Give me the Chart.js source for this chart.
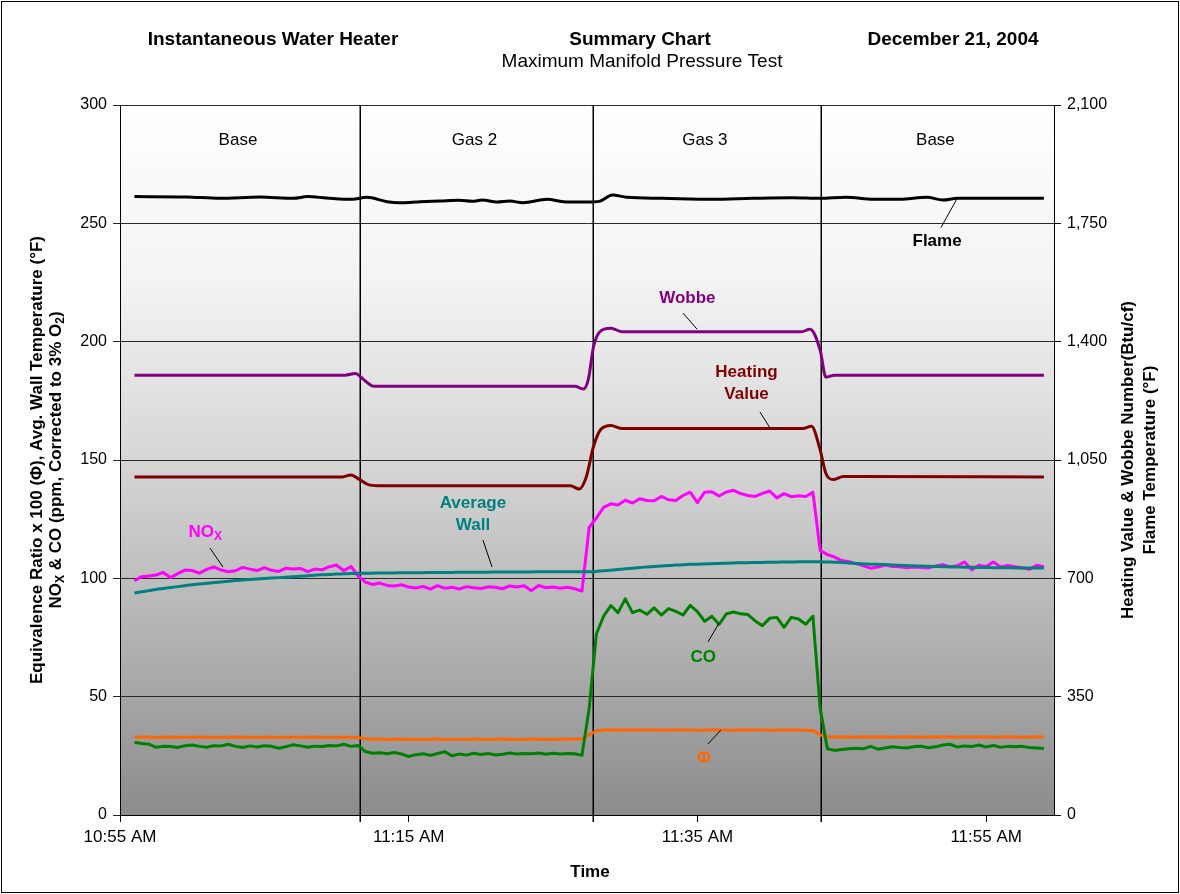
<!DOCTYPE html>
<html>
<head>
<meta charset="utf-8">
<script src="https://cdn.jsdelivr.net/npm/chart.js@4.4.1/dist/chart.umd.min.js"></script>
<style>
  html, body { margin: 0; padding: 0; background: #ffffff; }
  canvas { display: block; }
</style>
</head>
<body>
<canvas id="summary" width="1180" height="894"></canvas>
<script>
// ---- Logged data: minutes after 10:55 AM, one sample every half minute ----
const sampleStartMin = 1;
const sampleStepMin = 0.5;

// NOx, ppm corrected to 3% O2 (left axis)
const noxPpm = [
  99.0,100.7,101.0,101.4,102.5,100.3,102.0,103.5,103.3,102.2,103.8,104.8,103.5,102.8,103.2,104.6,
  103.9,103.3,104.5,103.4,102.9,104.3,103.9,104.2,102.8,103.9,103.6,104.9,105.6,103.2,105.0,101.0,
  98.4,97.4,98.0,97.0,96.8,97.3,96.3,95.9,96.6,95.4,96.9,95.8,96.2,95.5,96.5,96.0,
  95.7,96.4,96.2,95.6,96.8,96.3,96.9,94.8,97.0,96.0,96.3,95.8,96.2,95.6,94.6,
  121.5,125.5,
  130.0,131.5,131.0,133.0,131.8,133.6,132.9,132.8,134.6,133.2,132.9,135.0,136.4,132.0,136.4,
  136.6,134.8,136.5,137.2,135.8,135.0,134.6,135.9,136.9,134.0,135.8,134.5,134.9,134.6,136.4,
  111.8,
  110.0,109.0,107.5,107.0,106.2,105.3,104.3,104.8,105.6,105.0,104.9,104.5,104.8,104.6,104.4,105.2,
  105.8,104.8,105.3,106.9,103.6,105.5,105.0,106.9,104.8,105.4,104.9,104.5,103.8,105.5,104.9
];

// CO, ppm corrected to 3% O2 (left axis)
const coPpm = [
  30.7,30.2,29.9,28.6,29.0,28.9,28.5,29.3,29.6,29.0,28.6,29.3,29.2,29.9,29.0,28.5,
  29.2,28.7,29.3,29.0,28.2,28.9,29.7,29.2,28.6,29.1,28.9,29.4,29.2,29.9,29.0,29.4,
  26.8,26.1,26.3,25.9,26.4,25.8,24.7,25.5,25.9,25.2,26.0,26.7,25.0,25.8,25.3,26.1,
  25.6,26.0,25.4,25.7,26.2,25.8,26.0,25.9,26.2,25.7,26.1,25.8,26.0,25.9,25.2,
  45.0,76.5,
  84.0,88.5,85.5,91.3,85.5,86.6,84.8,87.5,84.5,87.2,86.0,84.5,88.6,85.9,81.8,
  84.0,80.5,85.0,85.8,85.0,84.7,82.0,80.0,83.1,83.5,79.3,83.5,82.8,80.6,84.0,
  45.0,
  28.0,27.3,27.7,28.0,28.2,28.0,29.0,27.8,28.3,28.8,28.5,28.3,28.9,29.1,28.4,28.8,
  29.6,29.9,28.7,29.2,28.9,29.6,28.7,29.4,28.6,29.0,28.8,29.0,28.5,28.3,28.1
];

// Equivalence ratio x 100 (left axis)
const phiX100 = [
  33.0,32.9,33.0,32.8,32.9,33.0,32.9,32.8,32.9,33.0,32.9,32.9,32.8,32.9,33.0,32.9,
  32.8,32.9,32.9,33.0,32.8,32.9,32.9,32.8,32.9,33.0,32.9,32.8,32.9,32.9,32.8,32.7,
  32.2,32.0,32.1,31.9,32.0,32.1,31.9,32.0,31.8,32.0,32.1,31.9,32.0,32.0,31.9,32.1,
  32.0,31.9,32.0,32.1,32.0,31.9,32.0,32.1,32.0,32.0,31.9,32.1,32.0,32.1,32.2,
  34.0,35.5,
  35.9,36.0,35.9,35.8,36.0,35.9,35.9,36.0,35.8,35.9,35.9,36.0,35.9,35.8,35.9,
  36.0,35.9,35.9,35.8,35.9,36.0,35.9,35.9,35.8,35.9,36.0,35.9,35.9,35.8,35.7,
  33.8,
  33.1,33.0,33.1,33.0,32.9,33.1,33.0,33.0,33.1,32.9,33.0,33.1,33.0,32.9,33.0,33.1,
  33.0,33.0,32.9,33.1,33.0,33.0,33.1,32.9,33.0,33.1,33.0,32.9,33.0,33.1,33.0
];

// Average wall temperature, deg F (left axis)
const wallTempF = [
  93.8,94.3,94.8,95.3,95.7,96.1,96.5,96.9,97.3,97.6,97.9,98.2,98.5,98.8,99.1,99.3,
  99.5,99.7,99.9,100.1,100.3,100.5,100.7,100.9,101.1,101.3,101.5,101.6,101.8,101.9,102.0,102.1,
  102.2,102.2,102.3,102.3,102.3,102.4,102.4,102.4,102.4,102.5,102.5,102.5,102.5,102.6,102.6,102.6,
  102.6,102.6,102.7,102.7,102.7,102.7,102.7,102.7,102.8,102.8,102.8,102.8,102.8,102.8,102.8,
  102.8,102.9,
  103.2,103.4,103.7,104.0,104.3,104.6,104.8,105.0,105.2,105.4,105.6,105.7,105.9,106.0,106.1,
  106.2,106.3,106.4,106.5,106.6,106.6,106.7,106.7,106.8,106.8,106.9,106.9,107.0,107.0,107.0,
  107.0,
  106.9,106.8,106.7,106.5,106.3,106.1,106.0,105.9,105.8,105.6,105.5,105.4,105.3,105.2,105.1,105.0,
  104.9,104.9,104.8,104.7,104.7,104.6,104.6,104.5,104.5,104.5,104.4,104.4,104.4,104.4,104.4
];

// Wobbe number, Btu/cf (right axis)
const wobbeMin = [1, 15.6, 16.3, 16.9, 17.6, 18.4, 31.5, 32.1, 32.45, 32.8, 33.3, 34.0, 34.8, 47.2, 47.8, 48.5, 48.9, 49.5, 64];
const wobbeBtu = [1301, 1301, 1306, 1287, 1268, 1268, 1268, 1260, 1290, 1385, 1432, 1440, 1429, 1429, 1437, 1375, 1295, 1301, 1301];

// Heating value, Btu/cf (right axis)
const heatingMin = [1, 15.4, 16.0, 16.6, 17.2, 17.9, 31.2, 31.8, 32.3, 32.8, 33.3, 34.0, 34.8, 47.3, 47.9, 48.5, 48.9, 49.4, 50.1, 64];
const heatingBtu = [1000, 1000, 1006, 992, 977, 974, 974, 964, 1000, 1090, 1140, 1152, 1143, 1143, 1150, 1080, 1010, 992, 1001, 1000];

// Flame temperature, deg F (right axis)
const flameMin = [1, 4.6, 6.9, 9.7, 12.0, 13.0, 14.3, 16.1, 17.1, 18.5, 19.4, 20.8, 22.2, 23.5, 24.4, 25.1, 26.1, 27.0, 27.9,
  29.6, 30.7, 32.3, 33.2, 34.1, 35.1, 37.6, 41.1, 43.8, 46.6, 48.5, 50.3, 52.2, 54.0, 55.9, 57.0, 58.0, 59.6, 64];
const flameF = [1829, 1828, 1824, 1828, 1824, 1829, 1825, 1821, 1827, 1814, 1811, 1814, 1816, 1818, 1815, 1819, 1813, 1816, 1811,
  1821, 1814, 1813, 1815, 1834, 1827, 1824, 1821, 1824, 1826, 1824, 1827, 1821, 1821, 1827, 1819, 1824, 1824, 1824];

// Test phases: boundaries in minutes after 10:55 AM, and their names
const phaseBoundsMin = [16.62, 32.76, 48.55];
const phaseNames = ['Base', 'Gas 2', 'Gas 3', 'Base'];

// Axes
const timeTicksMin = [0, 20, 40, 60];
const clockStartMin = 10 * 60 + 55;
const leftTicks = [0, 50, 100, 150, 200, 250, 300];
const rightTicks = [0, 350, 700, 1050, 1400, 1750, 2100];

// ---------------------------------------------------------------------------
const FONT = "'Liberation Sans', Arial, Helvetica, sans-serif";
const sampleMinutes = noxPpm.map((_, i) => sampleStartMin + i * sampleStepMin);
const onSamples = vals => vals.map((v, i) => ({ x: sampleMinutes[i], y: v }));
const paired = (xs, ys) => xs.map((x, i) => ({ x, y: ys[i] }));

function clockLabel(min) {
  const total = clockStartMin + min;
  let h = Math.floor(total / 60);
  const m = total % 60;
  const ampm = h >= 12 ? 'PM' : 'AM';
  if (h > 12) h -= 12;
  return h + ':' + String(m).padStart(2, '0') + ' ' + ampm;
}

// text made of runs (for subscripts), centred at x,y, optionally rotated
function drawRuns(ctx, runs, x, y, rot) {
  ctx.save();
  ctx.translate(x, y);
  if (rot) ctx.rotate(rot);
  let total = 0;
  runs.forEach(r => { ctx.font = r.font; r.w = ctx.measureText(r.text).width; total += r.w; });
  let cx = -total / 2;
  ctx.textAlign = 'left';
  ctx.textBaseline = 'middle';
  runs.forEach(r => {
    ctx.font = r.font;
    ctx.fillStyle = r.color || '#000';
    ctx.fillText(r.text, cx, r.dy || 0);
    cx += r.w;
  });
  ctx.restore();
}

// series call-outs: label position and leader line, in (minutes, left-axis units)
const callouts = [
  { color: '#000000', lines: [[{ t: 'Flame' }]], at: [56.6, 242.3], leader: [57.98, 260.4, 56.87, 248.2] },
  { color: '#800080', lines: [[{ t: 'Wobbe' }]], at: [39.3, 218.4], leader: [39.0, 212.1, 39.97, 205.3] },
  { color: '#800000', lines: [[{ t: 'Heating' }], [{ t: 'Value' }]], at: [43.4, 182.2], leader: [44.33, 170.3, 45.03, 163.5] },
  { color: '#ff00ff', lines: [[{ t: 'NO' }, { t: 'X', sub: true }]], at: [5.9, 119.6], leader: [6.23, 112.8, 7.13, 104.8] },
  { color: '#008080', lines: [[{ t: 'Average' }], [{ t: 'Wall' }]], at: [24.45, 127.1], leader: [25.14, 116.2, 25.77, 104.8] },
  { color: '#008000', lines: [[{ t: 'CO' }]], at: [40.4, 66.8], leader: [40.73, 73.1, 41.5, 81.1] },
  { color: '#ff6600', lines: [[{ t: '\u03A6' }]], at: [40.46, 24.1], leader: [40.73, 30.0, 41.63, 35.9] }
];

const decor = {
  id: 'decor',
  beforeDraw(chart) {
    const { ctx, chartArea: a } = chart;
    ctx.save();
    ctx.fillStyle = '#ffffff';
    ctx.fillRect(0, 0, chart.width, chart.height);
    const g = ctx.createLinearGradient(0, a.top, 0, a.bottom);
    g.addColorStop(0, '#ffffff');
    g.addColorStop(0.25, '#f3f3f3');
    g.addColorStop(0.5, '#d6d6d6');
    g.addColorStop(0.75, '#b2b2b2');
    g.addColorStop(1, '#8c8c8c');
    ctx.fillStyle = g;
    ctx.fillRect(a.left, a.top, a.right - a.left, a.bottom - a.top);
    ctx.restore();
  },
  beforeDatasetsDraw(chart) {
    const { ctx, chartArea: a, scales } = chart;
    ctx.save();
    ctx.strokeStyle = '#000000';
    ctx.lineWidth = 1.5;
    phaseBoundsMin.forEach(m => {
      const x = Math.round(scales.x.getPixelForValue(m)) + 0.25;
      ctx.beginPath();
      ctx.moveTo(x, a.top);
      ctx.lineTo(x, a.bottom + 7);
      ctx.stroke();
    });
    ctx.restore();
  },
  afterDatasetsDraw(chart) {
    const { ctx, scales } = chart;
    const xs = scales.x, ys = scales.y;
    ctx.save();
    // phase names, centred in each phase
    const edges = [xs.min, ...phaseBoundsMin, xs.max];
    ctx.font = '17px ' + FONT;
    ctx.fillStyle = '#000';
    ctx.textAlign = 'center';
    ctx.textBaseline = 'middle';
    phaseNames.forEach((name, i) => {
      const mid = (edges[i] + edges[i + 1]) / 2;
      ctx.fillText(name, xs.getPixelForValue(mid) - 2, ys.getPixelForValue(285.2));
    });
    // call-outs
    callouts.forEach(c => {
      const [t1, v1, t2, v2] = c.leader;
      ctx.strokeStyle = '#000';
      ctx.lineWidth = 1;
      ctx.beginPath();
      ctx.moveTo(xs.getPixelForValue(t1), ys.getPixelForValue(v1));
      ctx.lineTo(xs.getPixelForValue(t2), ys.getPixelForValue(v2));
      ctx.stroke();
      const cx = xs.getPixelForValue(c.at[0]);
      const cy = ys.getPixelForValue(c.at[1]);
      const n = c.lines.length;
      c.lines.forEach((line, k) => {
        const runs = line.map(r => r.sub
          ? { text: r.t, font: 'bold 12px ' + FONT, color: c.color, dy: 5 }
          : { text: r.t, font: 'bold 17px ' + FONT, color: c.color });
        drawRuns(ctx, runs, cx, cy + (k - (n - 1) / 2) * 22, 0);
      });
    });
    ctx.restore();
  },
  afterDraw(chart) {
    const { ctx, chartArea: a } = chart;
    ctx.save();
    ctx.fillStyle = '#000';
    ctx.textBaseline = 'middle';
    ctx.textAlign = 'center';
    ctx.font = 'bold 19px ' + FONT;
    ctx.fillText('Instantaneous Water Heater', 273, 40);
    ctx.fillText('Summary Chart', 640, 40);
    ctx.fillText('December 21, 2004', 953, 40);
    ctx.font = '19px ' + FONT;
    ctx.fillText('Maximum Manifold Pressure Test', 642, 62);
    ctx.font = 'bold 17px ' + FONT;
    ctx.fillText('Time', 590, 872);

    const midY = (a.top + a.bottom) / 2;
    const B = 'bold 17px ' + FONT, S = 'bold 12px ' + FONT;
    drawRuns(ctx, [{ text: 'Equivalence Ratio x 100 (\u03A6), Avg. Wall Temperature (\u00B0F)', font: B }], 37, midY, -Math.PI / 2);
    drawRuns(ctx, [
      { text: 'NO', font: B }, { text: 'X', font: S, dy: 5 },
      { text: ' & CO (ppm, Corrected to 3% O', font: B }, { text: '2', font: S, dy: 5 }, { text: ')', font: B }
    ], 56, midY, -Math.PI / 2);
    drawRuns(ctx, [{ text: 'Heating Value & Wobbe Number(Btu/cf)', font: B }], 1128, midY, -Math.PI / 2);
    drawRuns(ctx, [{ text: 'Flame Temperature (\u00B0F)', font: B }], 1150, midY, -Math.PI / 2);

    ctx.strokeStyle = '#000';
    ctx.lineWidth = 1;
    ctx.strokeRect(1.5, 1.5, chart.width - 3, chart.height - 3);
    ctx.restore();
  }
};

// smooth = monotone curve for slowly varying channels, straight segments for noisy analyser channels
const line = (label, data, color, axis, order, smooth) => ({
  label, data, yAxisID: axis, borderColor: color, backgroundColor: color,
  borderWidth: 3, pointRadius: 0, fill: false, order,
  borderJoinStyle: 'round',
  cubicInterpolationMode: smooth ? 'monotone' : 'default', tension: 0
});

new Chart(document.getElementById('summary'), {
  type: 'line',
  data: {
    datasets: [
      line('Flame', paired(flameMin, flameF), '#000000', 'y2', 0, true),
      line('Wobbe', paired(wobbeMin, wobbeBtu), '#800080', 'y2', 1, true),
      line('Heating Value', paired(heatingMin, heatingBtu), '#800000', 'y2', 2, true),
      line('Average Wall', onSamples(wallTempF), '#008080', 'y', 3, true),
      line('NOx', onSamples(noxPpm), '#ff00ff', 'y', 4, false),
      line('CO', onSamples(coPpm), '#008000', 'y', 5, false),
      line('\u03A6', onSamples(phiX100), '#ff6600', 'y', 6, false)
    ]
  },
  options: {
    responsive: false,
    animation: false,
    devicePixelRatio: 1,
    layout: { padding: { top: 105, left: 0, right: 0, bottom: 0 } },
    plugins: { legend: { display: false }, tooltip: { enabled: false }, title: { display: false } },
    scales: {
      x: {
        type: 'linear', position: 'bottom', min: 0, max: 64.7,
        afterBuildTicks: s => { s.ticks = timeTicksMin.map(v => ({ value: v })); },
        afterFit: s => { s.height = 79; },
        grid: { drawOnChartArea: false, drawTicks: true, tickLength: 7, color: '#000', lineWidth: 1 },
        border: { display: true, color: '#000', width: 1 },
        ticks: { callback: v => clockLabel(v), color: '#000', font: { family: FONT, size: 17 }, padding: 5, maxRotation: 0 }
      },
      y: {
        position: 'left', min: 0, max: 300,
        afterBuildTicks: s => { s.ticks = leftTicks.map(v => ({ value: v })); },
        afterFit: s => { s.width = 120; },
        grid: { color: '#2a2a2a', lineWidth: 1, tickLength: 7, drawTicks: true },
        border: { display: true, color: '#000', width: 1 },
        ticks: { color: '#000', font: { family: FONT, size: 16 }, padding: 6 }
      },
      y2: {
        position: 'right', min: 0, max: 2100,
        afterBuildTicks: s => { s.ticks = rightTicks.map(v => ({ value: v })); },
        afterFit: s => { s.width = 126; },
        grid: { drawOnChartArea: false, tickLength: 7, color: '#000', lineWidth: 1 },
        border: { display: true, color: '#000', width: 1 },
        ticks: { color: '#000', font: { family: FONT, size: 16 }, padding: 6, callback: v => v.toLocaleString('en-US') }
      }
    }
  },
  plugins: [decor]
});
</script>
</body>
</html>
